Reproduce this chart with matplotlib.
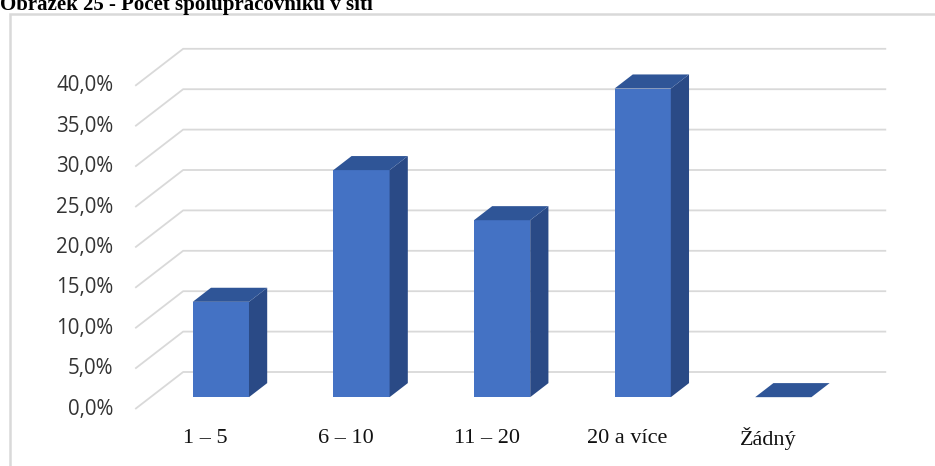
import matplotlib.pyplot as plt
from matplotlib.patches import Polygon, Rectangle

# survey result: share of respondents by number of collaborators in the network
categories = ["1 – 5", "6 – 10", "11 – 20", "20 a více", "Žádný"]
shares = [11.8, 28.1, 21.9, 38.2, 0.0]
ticks = [0, 5, 10, 15, 20, 25, 30, 35, 40]
tick_labels = ["0,0%", "5,0%", "10,0%", "15,0%", "20,0%", "25,0%", "30,0%", "35,0%", "40,0%"]
title = "Obrázek 25 - Počet spolupracovníků v síti"

# fake 3d geometry (in data units)
depth_x, depth_y = 0.341, 4.58      # full wall depth
bar_front, bar_back = 0.32, 0.70    # bar position inside the depth
bar_w = 0.40
c_front, c_top, c_side = "#4472C4", "#2F5597", "#2A4A86"
grid_c = "#d9d9d9"

fig = plt.figure(figsize=(9.35, 4.66), dpi=100)
ax = fig.add_axes([0, 0, 1, 1])
ax.set_xlim(-1.4616, 5.188)
ax.set_ylim(-7.054, 50.62)
ax.axis("off")

# chart frame
fig.patches.append(Rectangle((10 / 935, -0.1), 1.2, (466 - 14) / 466 + 0.1,
                             transform=fig.transFigure, fill=False,
                             edgecolor="#d9d9d9", lw=1.8, zorder=0))

# back wall + side wall gridlines
x_left = -0.5
x_right = len(categories) - 0.5 + depth_x
for t, lab in zip(ticks, tick_labels):
    ax.plot([x_left, x_left + depth_x, x_right], [t, t + depth_y, t + depth_y],
            color=grid_c, lw=1.3, solid_capstyle="butt", zorder=1)
    ax.text(x_left - 0.157, t, lab, ha="right", va="center", fontsize=14.8,
            family="Open Sans", color="#333333")

# bars drawn as front / top / side faces
for i, v in enumerate(shares):
    fx0 = i - bar_w / 2 + bar_front * depth_x
    fx1 = fx0 + bar_w
    fy0 = bar_front * depth_y
    fy1 = fy0 + v
    dx = (bar_back - bar_front) * depth_x
    dy = (bar_back - bar_front) * depth_y
    if v > 0:
        ax.add_patch(Polygon([(fx0, fy0), (fx1, fy0), (fx1, fy1), (fx0, fy1)],
                             closed=True, fc=c_front, ec="none", zorder=3))
        ax.add_patch(Polygon([(fx1, fy0), (fx1 + dx, fy0 + dy), (fx1 + dx, fy1 + dy), (fx1, fy1)],
                             closed=True, fc=c_side, ec="none", zorder=3))
    ax.add_patch(Polygon([(fx0, fy1), (fx1, fy1), (fx1 + dx, fy1 + dy), (fx0 + dx, fy1 + dy)],
                         closed=True, fc=c_top, ec="none", zorder=3))
    ax.text(i, -3.71, categories[i], ha="center", va="center", fontsize=16,
            family="Liberation Serif", color="#111111")

fig.text(0.0, 1 - 10 / 466, title, ha="left", va="baseline", fontsize=15,
         family="Liberation Serif", fontweight="bold")

fig.savefig("out.png", dpi=100)
